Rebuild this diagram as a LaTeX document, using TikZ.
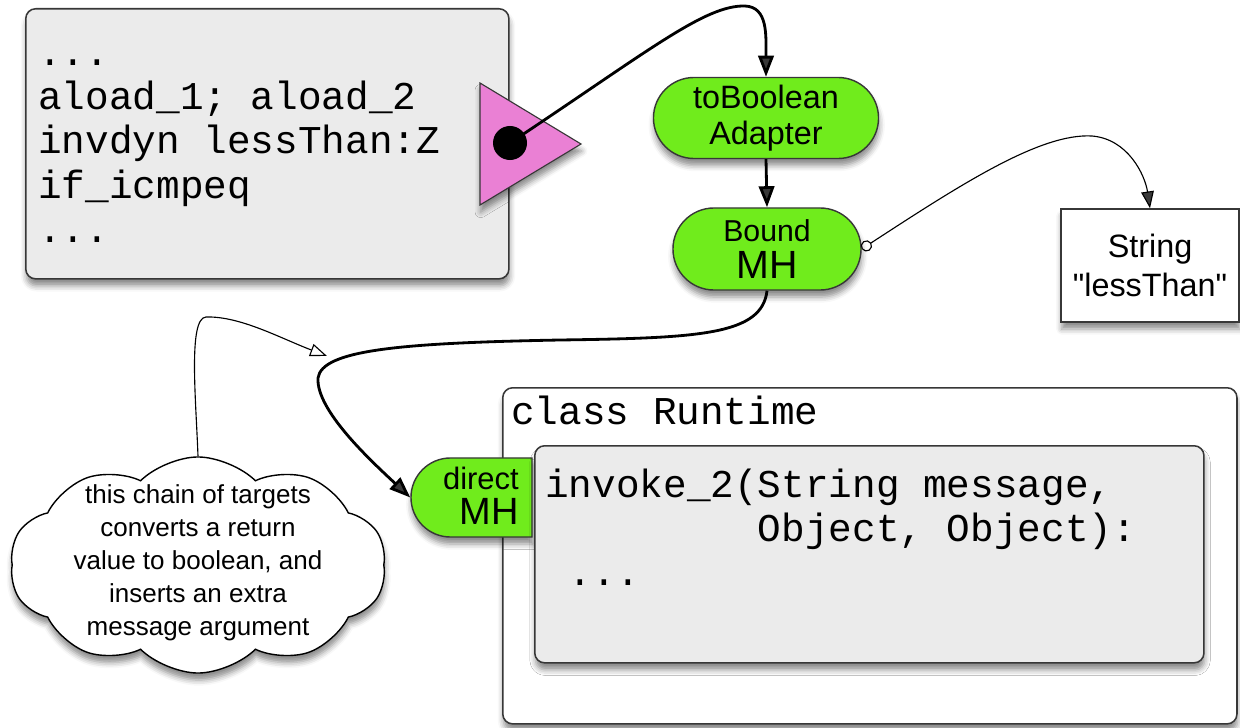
\documentclass[tikz,border=0pt]{standalone}
\usepackage{fontspec}
\setmainfont{Liberation Sans}[Ligatures=TeXOff]
\setmonofont{Liberation Mono}
\usetikzlibrary{arrows.meta, shapes.misc, shapes.symbols, shadows.blur}
\definecolor{boxgray}{RGB}{235,235,235}
\definecolor{mhgreen}{RGB}{112,236,28}
\definecolor{portpink}{RGB}{234,128,212}
\definecolor{edgegray}{RGB}{55,55,55}

\tikzset{
  soft shadow/.style={blur shadow={shadow xshift=0.5pt, shadow yshift=-5pt, shadow blur radius=4pt, shadow opacity=45}},
  codebox/.style={draw=edgegray, line width=1.1pt, fill=boxgray, rounded corners=7pt, soft shadow},
  handle/.style={rounded rectangle, draw=edgegray, line width=1pt, fill=mhgreen, soft shadow, align=center, inner sep=0pt},
  code/.style={font=\ttfamily\fontsize{28}{31.5}\selectfont, align=left, inner sep=0pt},
  flow/.style={line width=2pt, -{Triangle[length=15pt,width=11pt]}},
  thin flow/.style={line width=0.8pt, {Circle[open,length=8pt]}-{Triangle[length=12pt,width=9pt]}},
  note flow/.style={line width=0.8pt, -{Triangle[open,length=12pt,width=9pt]}},
}

\begin{document}
\begin{tikzpicture}[x=0.025cm, y=-0.025cm]
\useasboundingbox (0,0) rectangle (1240,728);

% bytecode with the call site
\node[codebox, anchor=north west, minimum width=12.075cm, minimum height=6.75cm] (caller) at (25,8) {};
\node[code, anchor=north west] (callercode) at (38,34) {\strut...\\aload\_1; aload\_2\\invdyn lessThan:Z\\if\_icmpeq\\...};
\draw[fill=portpink, draw=edgegray, line width=0.8pt, soft shadow] (480,83) -- (581,144) -- (480,205) -- cycle;
\node[circle, fill=black, minimum size=0.85cm, inner sep=0pt] (port) at (510,143) {};

% method handle chain
\node[handle, minimum width=5.625cm, minimum height=2.025cm, font=\fontsize{23}{26}\selectfont] (tobool) at (766,118) {toBoolean\\Adapter};
\node[handle, minimum width=4.7cm, minimum height=2.05cm, font=\fontsize{21.5}{26}\selectfont] (bound) at (767,249) {Bound\\{\fontsize{28}{28}\selectfont MH}};
\node[draw=edgegray, fill=white, line width=1pt, soft shadow, minimum width=4.45cm, minimum height=2.825cm, align=center, font=\fontsize{23}{28}\selectfont] (str) at (1150,265.5) {String\\"lessThan"};

% target class
\node[draw=edgegray, fill=white, rounded corners=7pt, line width=1.1pt, soft shadow, anchor=north west, minimum width=18.35cm, minimum height=8.4cm] (runtime) at (502,387) {};
\node[code, anchor=west] (runtimename) at (511,410) {class Runtime};
\node[handle, rounded rectangle right arc=none, minimum width=3.025cm, minimum height=1.975cm] (direct) at (471.5,497.5) {};
\node[align=right, anchor=east, inner sep=0pt, font=\fontsize{22}{25}\selectfont] (directname) at (519,496) {direct\\{\fontsize{27}{27}\selectfont MH}};
\node[codebox, anchor=north west, minimum width=16.725cm, minimum height=5.425cm] (method) at (534,445) {};
\node[code, anchor=north west] (methodcode) at (545,466) {\strut invoke\_2(String message,\\\ \ \ \ \ \ \ \ \ Object, Object):\\\ ...};

% remark
\node[cloud, cloud puffs=10, cloud puff arc=90, aspect=1.75, draw=black, fill=white, line width=1pt, soft shadow, minimum width=9.4cm, minimum height=5.4cm, inner sep=0pt] (note) at (198,565) {};
\node[align=center, font=\fontsize{18.5}{23.5}\selectfont] (notetext) at (198,563) {this chain of targets\\converts a return\\value to boolean, and\\inserts an extra\\message argument};

% connectors
\draw[flow] (port.center) .. controls (650,50) and (705,5) .. (745,6) .. controls (768,7) and (766,35) .. (tobool.north);
\draw[flow] (tobool.south) -- (bound.north);
\draw[thin flow] (bound.east) .. controls (960,185) and (1040,133) .. (1092,136) .. controls (1128,139) and (1145,175) .. (str.north);
\draw[flow] (bound.south) .. controls (762,335) and (700,338) .. (560,340) .. controls (400,343) and (322,350) .. (318,378) .. controls (316,410) and (370,460) .. (direct.west);
\coordinate (hook) at (327,356);
\draw[note flow] (note.north) .. controls (196,400) and (188,318) .. (206,317) .. controls (240,316) and (280,338) .. (hook);
\end{tikzpicture}
\end{document}
